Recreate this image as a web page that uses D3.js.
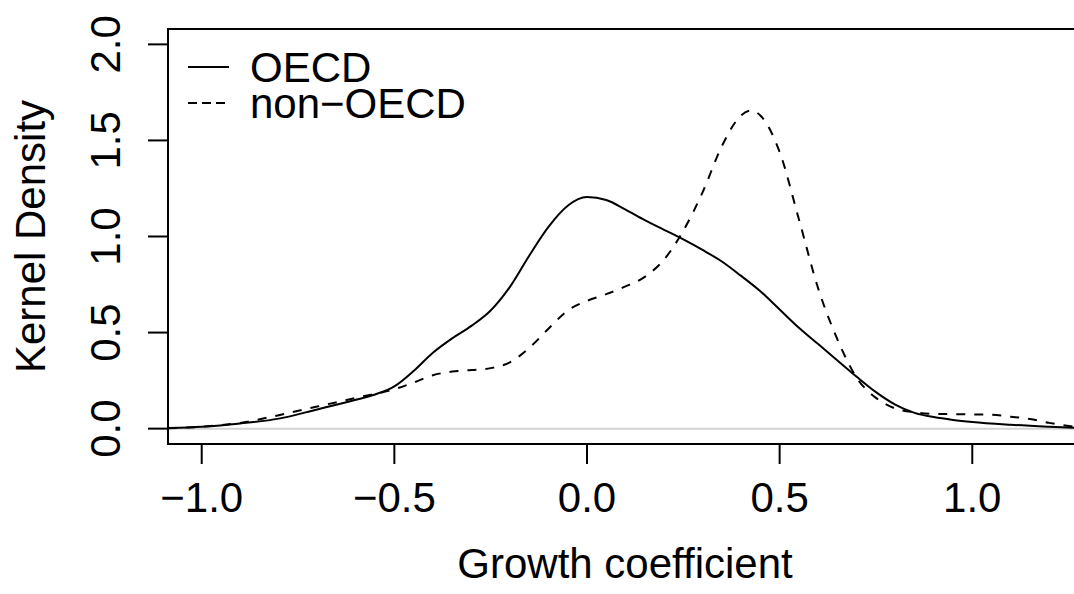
<!DOCTYPE html>
<html>
<head>
<meta charset="utf-8">
<script src="https://cdn.jsdelivr.net/npm/d3@7"></script>
<style>
  body { margin: 0; background: #fff; }
  text { font-family: "Liberation Sans", Arial, sans-serif; fill: #000; }
</style>
</head>
<body>
<svg id="chart" width="1074" height="594"></svg>
<script>
// density estimates
const oecdX = [-1.087, -1.0, -0.9, -0.8, -0.7, -0.6, -0.55, -0.5, -0.45, -0.4, -0.35, -0.3, -0.25, -0.2, -0.15, -0.1, -0.05, 0.0, 0.05, 0.1, 0.15, 0.2, 0.25, 0.3, 0.35, 0.4, 0.45, 0.5, 0.55, 0.6, 0.65, 0.7, 0.75, 0.8, 0.85, 0.9, 0.95, 1.0, 1.1, 1.2, 1.285];
const oecdY = [0.003, 0.01, 0.027, 0.052, 0.1, 0.15, 0.178, 0.22, 0.3, 0.395, 0.47, 0.535, 0.615, 0.738, 0.9, 1.05, 1.16, 1.205, 1.19, 1.14, 1.085, 1.035, 0.985, 0.93, 0.87, 0.795, 0.715, 0.62, 0.525, 0.44, 0.355, 0.27, 0.19, 0.125, 0.082, 0.06, 0.045, 0.034, 0.02, 0.01, 0.003];
const nonX = [-1.087, -1.0, -0.9, -0.8, -0.7, -0.6, -0.5, -0.45, -0.4, -0.35, -0.3, -0.25, -0.2, -0.15, -0.1, -0.05, 0.0, 0.05, 0.1, 0.15, 0.2, 0.25, 0.3, 0.35, 0.4, 0.425, 0.45, 0.5, 0.55, 0.6, 0.65, 0.7, 0.75, 0.8, 0.85, 0.9, 1.0, 1.05, 1.1, 1.15, 1.2, 1.285];
const nonY = [0.002, 0.01, 0.03, 0.07, 0.115, 0.16, 0.205, 0.24, 0.278, 0.297, 0.305, 0.315, 0.345, 0.42, 0.52, 0.615, 0.665, 0.7, 0.74, 0.79, 0.88, 1.03, 1.23, 1.47, 1.63, 1.655, 1.63, 1.44, 1.09, 0.73, 0.465, 0.265, 0.16, 0.105, 0.085, 0.077, 0.074, 0.072, 0.062, 0.05, 0.03, 0.005];
const xTicks = [-1.0, -0.5, 0.0, 0.5, 1.0];
const yTicks = [0.0, 0.5, 1.0, 1.5, 2.0];
const seriesNames = ["OECD", "non\u2212OECD"];

const svg = d3.select("#chart");
const box = { left: 168, right: 1082, top: 29, bottom: 444 };
const fs = 42;

const x = d3.scaleLinear().domain([-1.0875, 1.2848]).range([box.left, box.right]);
const y = d3.scaleLinear().domain([-0.08, 2.08]).range([box.bottom, box.top]);

const plot = svg.append("g");

// zero line
plot.append("line")
  .attr("x1", box.left).attr("x2", box.right)
  .attr("y1", y(0)).attr("y2", y(0))
  .attr("stroke", "#d3d3d3").attr("stroke-width", 2);

const line = d3.line()
  .x(d => x(d[0]))
  .y(d => y(d[1]))
  .curve(d3.curveMonotoneX);

plot.append("path")
  .datum(d3.zip(oecdX, oecdY))
  .attr("d", line)
  .attr("fill", "none")
  .attr("stroke", "#000")
  .attr("stroke-width", 2);

plot.append("path")
  .datum(d3.zip(nonX, nonY))
  .attr("d", line)
  .attr("fill", "none")
  .attr("stroke", "#000")
  .attr("stroke-width", 2)
  .attr("stroke-dasharray", "9,9");

// box
svg.append("rect")
  .attr("x", box.left).attr("y", box.top)
  .attr("width", box.right - box.left).attr("height", box.bottom - box.top)
  .attr("fill", "none").attr("stroke", "#000").attr("stroke-width", 2);

// x axis
const xAxis = svg.append("g");
xAxis.selectAll("line").data(xTicks).enter().append("line")
  .attr("x1", d => x(d)).attr("x2", d => x(d))
  .attr("y1", box.bottom).attr("y2", box.bottom + 20)
  .attr("stroke", "#000").attr("stroke-width", 2);
xAxis.selectAll("text").data(xTicks).enter().append("text")
  .attr("x", d => x(d)).attr("y", 512)
  .attr("text-anchor", "middle")
  .style("font-size", fs + "px")
  .text(d => d3.format(".1f")(d).replace("-", "\u2212"));

// y axis
const yAxis = svg.append("g");
yAxis.selectAll("line").data(yTicks).enter().append("line")
  .attr("x1", box.left - 20).attr("x2", box.left)
  .attr("y1", d => y(d)).attr("y2", d => y(d))
  .attr("stroke", "#000").attr("stroke-width", 2);
yAxis.selectAll("text").data(yTicks).enter().append("text")
  .attr("transform", d => `translate(120,${y(d)}) rotate(-90)`)
  .attr("text-anchor", "middle")
  .style("font-size", fs + "px")
  .text(d => d3.format(".1f")(d));

// axis titles
svg.append("text")
  .attr("x", (box.left + box.right) / 2).attr("y", 578)
  .attr("text-anchor", "middle")
  .style("font-size", fs + "px")
  .text("Growth coefficient");
svg.append("text")
  .attr("transform", `translate(45,${(box.top + box.bottom) / 2}) rotate(-90)`)
  .attr("text-anchor", "middle")
  .style("font-size", fs + "px")
  .text("Kernel Density");

// legend
const legend = svg.append("g");
const legY = [67, 103];
legend.selectAll("line").data(seriesNames).enter().append("line")
  .attr("x1", 188).attr("x2", 229)
  .attr("y1", (d, i) => legY[i]).attr("y2", (d, i) => legY[i])
  .attr("stroke", "#000").attr("stroke-width", 2)
  .attr("stroke-dasharray", (d, i) => i === 1 ? "9,5" : null);
legend.selectAll("text").data(seriesNames).enter().append("text")
  .attr("x", 250).attr("y", (d, i) => legY[i] + 15)
  .style("font-size", fs + "px")
  .text(d => d);
</script>
</body>
</html>
